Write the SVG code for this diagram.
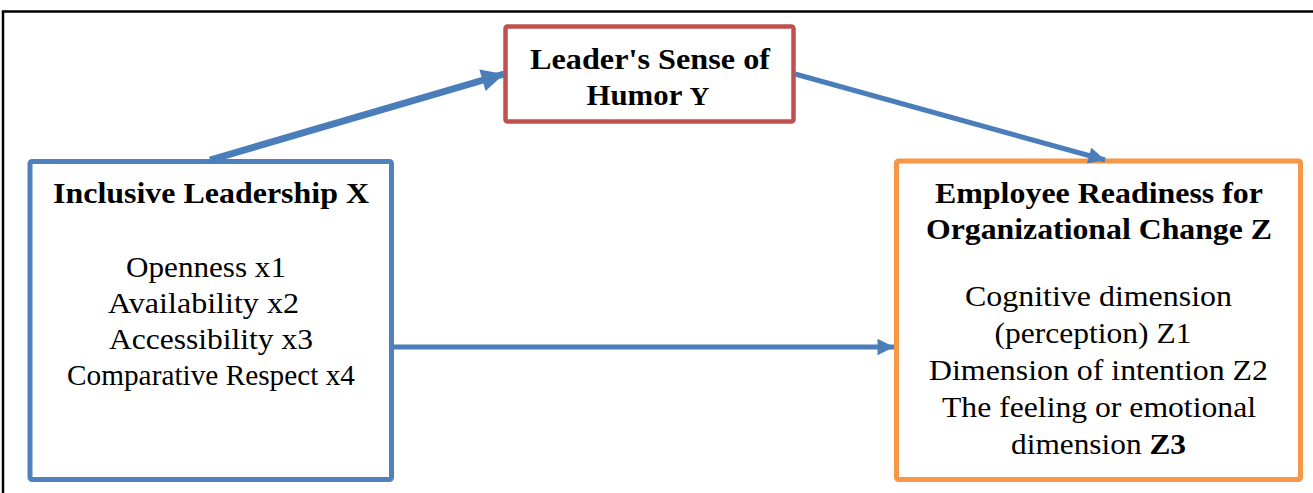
<svg xmlns="http://www.w3.org/2000/svg" width="1313" height="493" viewBox="0 0 1313 493">
<style>
text{font-family:"Liberation Serif","Times New Roman",serif;fill:#000;text-anchor:middle}
.h{font-weight:bold;font-size:29px}
.b{font-size:29px}
.c{stroke:#4A7EBB;fill:none}
</style>
<defs>
<marker id="ah1" viewBox="0 0 10 10" refX="10" refY="5" markerWidth="3.6" markerHeight="3.2" orient="auto" markerUnits="strokeWidth"><path d="M0,0L10,5L0,10z" fill="#4A7EBB"/></marker>
<marker id="ah2" viewBox="0 0 10 10" refX="10" refY="5" markerWidth="3.5" markerHeight="3.3" orient="auto" markerUnits="strokeWidth"><path d="M0,0L10,5L0,10z" fill="#4A7EBB"/></marker>
</defs>
<rect width="1313" height="493" fill="#fff"/>
<g id="frame"><path d="M3,493V11.5H1313" stroke="#000" stroke-width="2.5" fill="none"/></g>
<g id="nodeY">
<rect x="505.5" y="26.5" width="288" height="95" rx="2" fill="#fff" stroke="#C0504D" stroke-width="4.5"/>
<text class="h" x="650" y="69" textLength="240" lengthAdjust="spacingAndGlyphs">Leader's Sense of</text>
<text class="h" x="648" y="105" textLength="123" lengthAdjust="spacingAndGlyphs">Humor <tspan font-size="26">Y</tspan></text>
</g>
<g id="nodeX">
<rect x="30" y="161.5" width="361.5" height="318" rx="2" fill="#fff" stroke="#4F81BD" stroke-width="5"/>
<text class="h" x="211" y="203" textLength="316" lengthAdjust="spacingAndGlyphs">Inclusive Leadership X</text>
<text class="b" x="206" y="277" textLength="160" lengthAdjust="spacingAndGlyphs">Openness x1</text>
<text class="b" x="203.5" y="313" textLength="191" lengthAdjust="spacingAndGlyphs">Availability x2</text>
<text class="b" x="211" y="349" textLength="204" lengthAdjust="spacingAndGlyphs">Accessibility x3</text>
<text class="b" x="211" y="385" font-size="26" textLength="288" lengthAdjust="spacingAndGlyphs">Comparative Respect x4</text>
</g>
<g id="nodeZ">
<rect x="896.5" y="161" width="404" height="318.5" rx="2" fill="#fff" stroke="#F79646" stroke-width="5"/>
<text class="h" x="1099" y="203" textLength="328" lengthAdjust="spacingAndGlyphs">Employee Readiness for</text>
<text class="h" x="1099" y="239" textLength="346" lengthAdjust="spacingAndGlyphs">Organizational Change Z</text>
<text class="b" x="1098.5" y="306" textLength="267" lengthAdjust="spacingAndGlyphs">Cognitive dimension</text>
<text class="b" x="1093" y="343" textLength="197" lengthAdjust="spacingAndGlyphs">(perception) Z1</text>
<text class="b" x="1098.5" y="380" textLength="339" lengthAdjust="spacingAndGlyphs">Dimension of intention Z2</text>
<text class="b" x="1099" y="417" textLength="314" lengthAdjust="spacingAndGlyphs">The feeling or emotional</text>
<text class="b" x="1098.5" y="454" textLength="175" lengthAdjust="spacingAndGlyphs">dimension <tspan font-weight="bold">Z3</tspan></text>
</g>
<g id="connectors">
<path class="c" d="M210,160L504,74" stroke-width="7" marker-end="url(#ah1)"/>
<path class="c" d="M795,74L1105,160" stroke-width="5" marker-end="url(#ah2)"/>
<path class="c" d="M393,347L894,347" stroke-width="5" marker-end="url(#ah2)"/>
</g>
</svg>
